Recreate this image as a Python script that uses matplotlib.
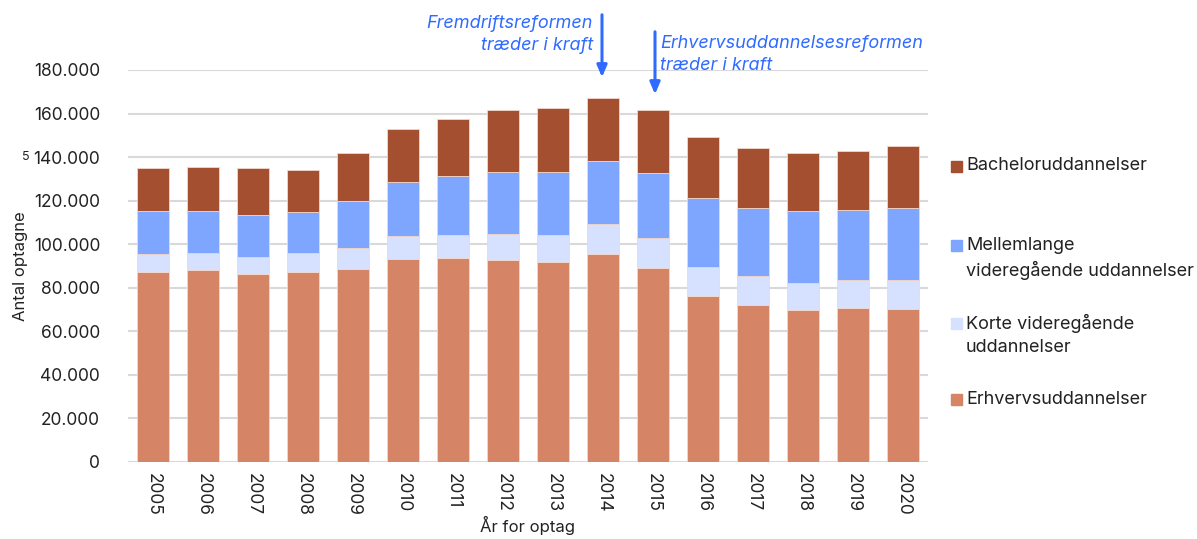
import matplotlib
matplotlib.use("Agg")
import matplotlib.pyplot as plt
from matplotlib.patches import Rectangle
from matplotlib.ticker import FuncFormatter
import numpy as np

plt.rcParams['font.family'] = ['Inter', 'DejaVu Sans']

# Optag pr. år
years = ["2005", "2006", "2007", "2008", "2009", "2010", "2011", "2012",
         "2013", "2014", "2015", "2016", "2017", "2018", "2019", "2020"]
erhverv = [87150, 88070, 86240, 87150, 88530, 93120, 93580, 92970,
           91900, 95410, 89140, 76300, 72020, 69590, 70640, 70330]
korte = [8250, 7800, 7800, 9030, 9790, 10700, 10850, 11920,
         12380, 13760, 13610, 13150, 13300, 12520, 13160, 13470]
mellemlange = [20060, 19590, 19260, 18500, 21720, 24620, 26760, 28140,
               29050, 29060, 30130, 31790, 31500, 33030, 32100, 32710]
bachelor = [19400, 19840, 21560, 19270, 21700, 24310, 26290, 28440,
            29210, 29060, 28590, 28160, 27360, 26900, 27060, 28440]

series = [
    ("Erhvervsuddannelser", erhverv, "#d68466"),
    ("Korte videregående uddannelser", korte, "#d5e1ff"),
    ("Mellemlange videregående uddannelser", mellemlange, "#7ea6ff"),
    ("Bacheloruddannelser", bachelor, "#a54f31"),
]

blue = "#2f6bff"
text_col = "#222222"

fig = plt.figure(figsize=(11.97, 5.39), dpi=100)
ax = fig.add_axes([128 / 1197, 1 - 462 / 539, 800 / 1197, 392 / 539])
ax.set_facecolor("white")

x = np.arange(len(years))
bottom = np.zeros(len(years))
for label, vals, col in series:
    ax.bar(x, vals, width=0.65, bottom=bottom, color=col,
           edgecolor="#f2d6cc", linewidth=0.6, zorder=2)
    bottom += np.array(vals)

ax.set_xlim(-0.5, len(years) - 0.5)
ax.set_ylim(0, 180000)
ax.set_yticks(np.arange(0, 180001, 20000))
ax.yaxis.set_major_formatter(FuncFormatter(lambda v, p: f"{int(v):,}".replace(",", ".")))
ax.grid(axis="y", color="#d9d9d9", linewidth=1.5, zorder=0)
ax.set_axisbelow(True)
for s in ax.spines.values():
    s.set_visible(False)
ax.tick_params(axis="both", length=0, labelsize=12.5, colors=text_col)
ax.tick_params(axis="y", pad=20)
ax.set_xticks(x)
ax.set_xticklabels(years, rotation=-90)
ax.tick_params(axis="x", pad=8)

ax.set_ylabel("Antal optagne", fontsize=12, color=text_col, labelpad=4)
ax.set_xlabel("År for optag", fontsize=12, color=text_col, labelpad=0)

# løs "5" ved aksen
fig.text(22 / 1197, 1 - 157 / 539, "5", fontsize=9, color=text_col,
         ha="left", va="center")

# annotationer (tekst under akserne, så gitterlinjen skærer den)
ann = dict(fontsize=13, style="italic", color=blue, va="center", zorder=-1)
fig.text(593 / 1197, 1 - 23 / 539, "Fremdriftsreformen", ha="right", **ann)
fig.text(593 / 1197, 1 - 46 / 539, "træder i kraft", ha="right", **ann)
fig.text(660 / 1197, 1 - 44 / 539, "Erhvervsuddannelsesreformen", ha="left", **ann)
fig.text(660 / 1197, 1 - 66 / 539, "træder i kraft", ha="left", **ann)

arrow_style = dict(arrowstyle="-|>,head_length=0.7,head_width=0.3", color=blue, lw=2.2)
ax.annotate("", xy=(602 / 1197, 1 - 80 / 539), xytext=(602 / 1197, 1 - 12 / 539),
            xycoords="figure fraction", textcoords="figure fraction",
            arrowprops=arrow_style, annotation_clip=False, zorder=10)
ax.annotate("", xy=(655 / 1197, 1 - 97 / 539), xytext=(655 / 1197, 1 - 29 / 539),
            xycoords="figure fraction", textcoords="figure fraction",
            arrowprops=arrow_style, annotation_clip=False, zorder=10)

# forklaring
legend_rows = [
    (["Bacheloruddannelser"], "#a54f31", 166),
    (["Mellemlange", "videregående uddannelser"], "#7ea6ff", 245),
    (["Korte videregående", "uddannelser"], "#d5e1ff", 323),
    (["Erhvervsuddannelser"], "#d68466", 399),
]
for lines, col, ypix in legend_rows:
    fig.patches.append(Rectangle((951 / 1197, 1 - (ypix + 6) / 539), 11 / 1197, 11 / 539,
                                 transform=fig.transFigure, color=col))
    for i, line in enumerate(lines):
        fig.text(966 / 1197, 1 - (ypix + 25 * i) / 539, line, fontsize=13,
                 color=text_col, ha="left", va="center")

fig.savefig("out.png", dpi=100)
